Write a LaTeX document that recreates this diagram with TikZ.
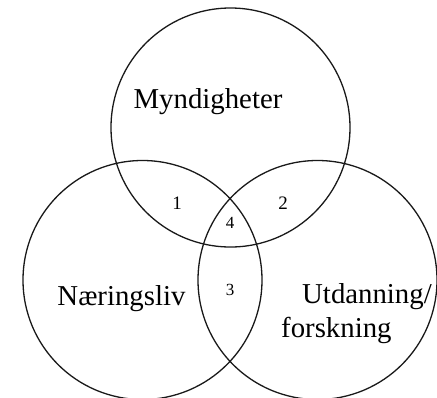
\documentclass[tikz,border=0pt]{standalone}
\usepackage{fontspec}
\setmainfont{Liberation Serif}
\begin{document}
\begin{tikzpicture}[x=1pt,y=-1pt,
  setc/.style={circle,draw=black!90,line width=1.3pt,minimum size=239pt,inner sep=0pt},
  big/.style={font=\fontsize{28.8}{34}\selectfont,inner sep=0pt},
  num/.style={font=\fontsize{19}{22}\selectfont,inner sep=0pt},
  smallnum/.style={font=\fontsize{17}{20}\selectfont,inner sep=0pt}]
\useasboundingbox (0,0) rectangle (437,397);
\node[setc] (top) at (230.5,127.5) {};
\node[setc] (left) at (142.5,280) {};
\node[setc] (right) at (317.5,280) {};
\node[big,anchor=base] (myn) at (208,108) {Myndigheter};
\node[big,anchor=base] (naer) at (121.5,305) {Næringsliv};
\node[big,anchor=base west] (utd) at (302,303) {Utdanning/};
\node[big,anchor=base west] (fors) at (281,337) {forskning};
\node[num] (n1) at (177,203) {1};
\node[num] (n2) at (283,203) {2};
\node[smallnum] (n4) at (230,223) {4};
\node[smallnum] (n3) at (230,290) {3};
\end{tikzpicture}
\end{document}
